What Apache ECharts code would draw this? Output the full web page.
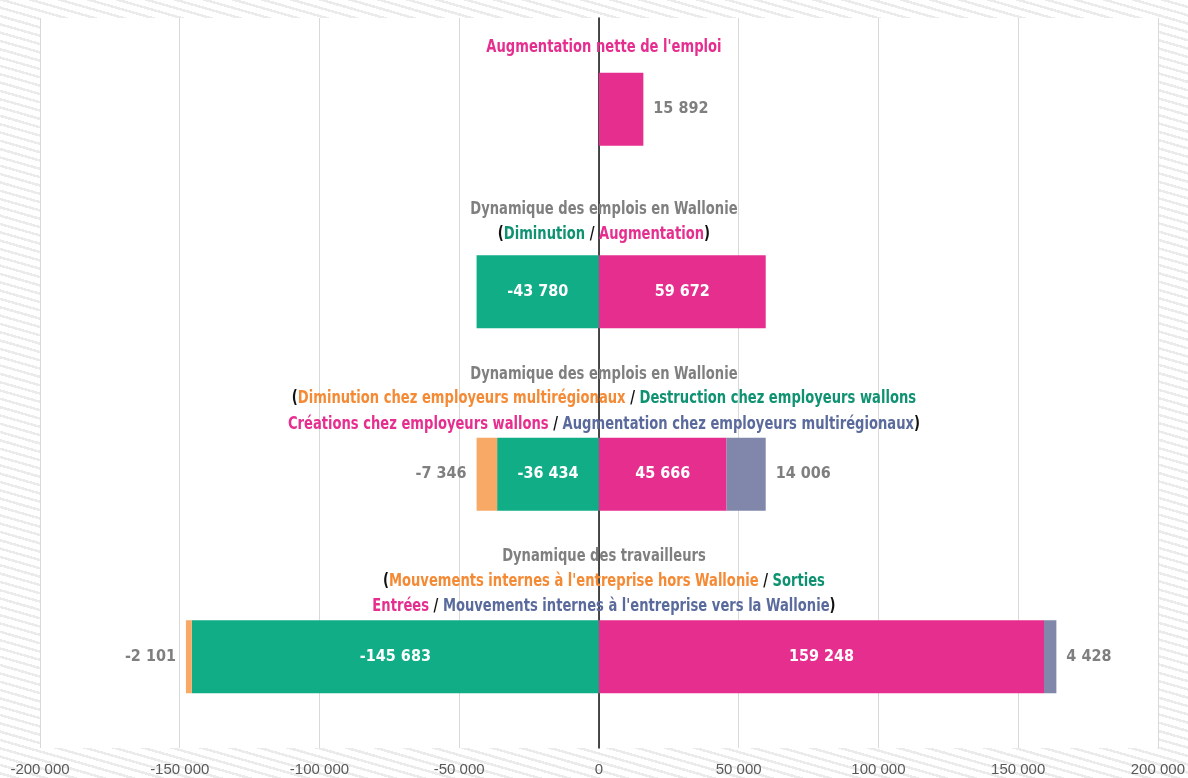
<!DOCTYPE html>
<html>
<head>
<meta charset="utf-8">
<script src="https://cdn.jsdelivr.net/npm/echarts@6/dist/echarts.min.js"></script>
<style>
  html, body { margin: 0; padding: 0; }
  #chart {
    width: 1188px;
    height: 778px;
    background: repeating-linear-gradient(196deg, #ffffff 0px, #ffffff 5.5px, #ebebeb 5.5px, #ebebeb 8px);
  }
</style>
</head>
<body>
<div id="chart"></div>
<script>
let categories = [
  "Augmentation nette de l'emploi",
  'Dynamique des emplois en Wallonie',
  'Dynamique des emplois en Wallonie (détail)',
  'Dynamique des travailleurs'
];

// négatifs
let sortieValues = [null, -43780, -36434, -145683];
let horsWallonieValues = [null, null, -7346, -2101];
// positifs
let entreeValues = [15892, 59672, 45666, 159248];
let versWallonieValues = [null, null, 14006, 4428];

let axisTicks = [-200000, -150000, -100000, -50000, 0, 50000, 100000, 150000, 200000];

// titres au-dessus des barres : [texte, couleur]
let titleLines = [
  [
    [["Augmentation nette de l'emploi", 'pink']]
  ],
  [
    [['Dynamique des emplois en Wallonie', 'gray']],
    [['(', 'black'], ['Diminution', 'green'], [' / ', 'black'], ['Augmentation', 'pink'], [')', 'black']]
  ],
  [
    [['Dynamique des emplois en Wallonie', 'gray']],
    [['(', 'black'], ['Diminution chez employeurs multirégionaux', 'orange'], [' / ', 'black'], ['Destruction chez employeurs wallons', 'green']],
    [['Créations chez employeurs wallons', 'pink'], [' / ', 'black'], ['Augmentation chez employeurs multirégionaux', 'blue'], [')', 'black']]
  ],
  [
    [['Dynamique des travailleurs', 'gray']],
    [['(', 'black'], ["Mouvements internes à l'entreprise hors Wallonie", 'orange'], [' / ', 'black'], ['Sorties', 'green']],
    [['Entrées', 'pink'], [' / ', 'black'], ["Mouvements internes à l'entreprise vers la Wallonie", 'blue'], [')', 'black']]
  ]
];

// décalage vertical des lignes par rapport au centre de la barre
let lineOffsets = [
  [-62],
  [-82, -57],
  [-100, -76, -50],
  [-100, -75, -50]
];

let textColors = {
  gray: '#7f7f7f',
  black: '#111111',
  green: '#0f9272',
  pink: '#e62e8f',
  orange: '#f58a35',
  blue: '#5b6a9c'
};

let narrowFont = "'Liberation Sans Narrow', 'DejaVu Sans Condensed', sans-serif";

function formatNumber(v) {
  let s = String(Math.abs(v)).replace(/\B(?=(\d{3})+(?!\d))/g, ' ');
  return (v < 0 ? '-' : '') + s;
}

let chart = echarts.init(document.getElementById('chart'));

let insideLabel = {
  show: true,
  position: 'inside',
  color: '#ffffff',
  fontFamily: narrowFont,
  fontWeight: 'bold',
  fontSize: 16,
  formatter: p => formatNumber(p.value)
};

function outsideLabel(position) {
  return {
    show: true,
    position: position,
    distance: 10,
    color: '#7f7f7f',
    fontFamily: narrowFont,
    fontWeight: 'bold',
    fontSize: 16,
    formatter: p => formatNumber(p.value)
  };
}

let option = {
  animation: false,
  grid: {
    left: 40,
    right: 28,
    top: 18,
    bottom: 30,
    show: true,
    backgroundColor: '#ffffff',
    borderWidth: 0
  },
  xAxis: {
    type: 'value',
    min: axisTicks[0],
    max: axisTicks[axisTicks.length - 1],
    interval: 50000,
    axisLine: { show: false },
    axisTick: { show: false },
    splitLine: { lineStyle: { color: '#d9d9d9', width: 1 } },
    axisLabel: {
      color: '#595959',
      fontFamily: "'Liberation Sans', Arial, sans-serif",
      fontSize: 15,
      margin: 14,
      formatter: v => formatNumber(v)
    }
  },
  yAxis: {
    type: 'category',
    data: categories,
    inverse: true,
    axisTick: { show: false },
    axisLabel: { show: false },
    axisLine: { lineStyle: { color: '#111111', width: 1.5 } }
  },
  series: [
    {
      name: 'Sorties',
      type: 'bar',
      stack: 'total',
      barCategoryGap: '60%',
      data: sortieValues,
      itemStyle: { color: '#10ad87' },
      label: insideLabel
    },
    {
      name: 'Entrées',
      type: 'bar',
      stack: 'total',
      data: entreeValues.map((v, i) => i === 0
        ? { value: v, label: outsideLabel('right') }
        : v),
      itemStyle: { color: '#e62e8f' },
      label: insideLabel
    },
    {
      name: 'Hors Wallonie',
      type: 'bar',
      stack: 'total',
      data: horsWallonieValues,
      itemStyle: { color: '#f9a966' },
      label: outsideLabel('left')
    },
    {
      name: 'Vers Wallonie',
      type: 'bar',
      stack: 'total',
      data: versWallonieValues,
      itemStyle: { color: '#8087ab' },
      label: outsideLabel('right')
    }
  ]
};

chart.setOption(option);

// titres des catégories, placés à partir des axes
let richStyles = {};
Object.keys(textColors).forEach(k => {
  richStyles[k] = {
    fill: textColors[k],
    fontFamily: narrowFont,
    fontWeight: 'bold',
    fontSize: 18
  };
});

let zeroX = chart.convertToPixel({ xAxisIndex: 0 }, 0);
let graphics = [];

titleLines.forEach((lines, ci) => {
  let centerY = chart.convertToPixel({ yAxisIndex: 0 }, categories[ci]);
  lines.forEach((segments, li) => {
    let text = segments.map(s => '{' + s[1] + '|' + s[0] + '}').join('');
    graphics.push({
      type: 'text',
      x: zeroX + 5,
      y: centerY + lineOffsets[ci][li],
      scaleX: 0.81,
      z: 100,
      style: {
        text: text,
        rich: richStyles,
        align: 'center',
        verticalAlign: 'middle',
        fontFamily: narrowFont,
        fontWeight: 'bold',
        fontSize: 18
      }
    });
  });
});

chart.setOption({ graphic: graphics });
</script>
</body>
</html>
